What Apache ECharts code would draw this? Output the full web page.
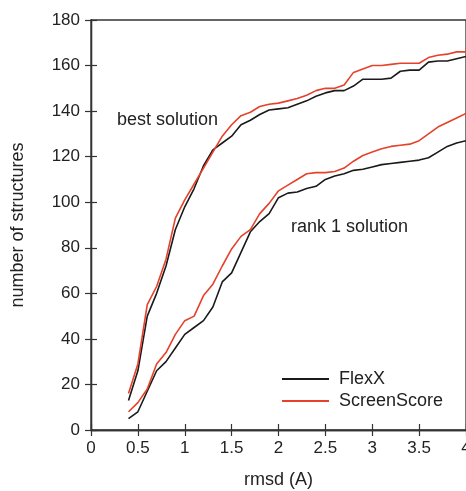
<!DOCTYPE html>
<html>
<head>
<meta charset="utf-8">
<script src="https://cdn.jsdelivr.net/npm/echarts@6/dist/echarts.min.js"></script>
<style>html,body{margin:0;padding:0;background:#fff}#c{width:466px;height:491px}</style>
</head>
<body>
<div id="c"></div>
<script>
const rmsd = [0.4,0.5,0.6,0.7,0.8,0.9,1.0,1.1,1.2,1.3,1.4,1.5,1.6,1.7,1.8,1.9,2.0,2.1,2.2,2.3,2.4,2.5,2.6,2.7,2.8,2.9,3.0,3.1,3.2,3.3,3.4,3.5,3.6,3.7,3.8,3.9,4.0];
const bestFlexX = [13,26,50,60,72,88,98,106,116,123,126,129,134,136,138.5,140.5,141,141.5,143,144.5,146.5,148,149,149,151,154,154,154,154.5,157.5,158,158,161.5,162,162,163,164];
const bestScreenScore = [16,29,55,63,75,93,101,108,115,122,129,134,138,139.5,142,143,143.5,144.5,145.5,147,149,150,150,151.5,157,158.5,160,160,160.5,161,161,161,163.5,164.5,165,166,166];
const rankFlexX = [5,8,17,26,30,36,42,45,48,54,65,69,78,87,91.5,95,102,104,104.5,106,107,110,111.5,112.5,114,114.5,115.5,116.5,117,117.5,118,118.5,119.5,122,124.5,126,127];
const rankScreenScore = [8,12,18,29,34,42,48,50,59,64,72,79.5,85,88,95,99.5,105,107.5,110,112.5,113,113,113.5,115,118,120.5,122,123.5,124.5,125,125.5,127,130,133,135,137,139];
const xTicks = ['0','0.5','1','1.5','2','2.5','3','3.5','4'];
const seriesNames = ['FlexX','ScreenScore'];
const annotations = ['best solution','rank 1 solution'];

const BLACK = '#1a1a1a', RED = '#e5412b', AX = '#333';
const font = 'Liberation Sans, Arial, Helvetica, sans-serif';
const pair = ys => rmsd.map((x,i)=>[x,ys[i]]);
const mk = (name, ys, color) => ({
  type:'line', name, data: pair(ys), symbol:'none', showSymbol:false,
  lineStyle:{color, width:1.6}, itemStyle:{color}, animation:false, z: color===RED?3:2
});
const axLine = {show:true, lineStyle:{color:AX, width:1.3}};
const tick = {show:true, inside:true, length:6, lineStyle:{color:AX, width:1.2}};
const chart = echarts.init(document.getElementById('c'), null, {renderer:'canvas'});
chart.setOption({
  backgroundColor:'#fff',
  animation:false,
  grid:{left:91, right:0, top:20, bottom:61, outerBoundsMode:'none',
        show:true, borderColor:AX, borderWidth:1.3, backgroundColor:'transparent'},
  legend:{
    data: seriesNames, orient:'vertical', left:277, top:365,
    icon:'rect', itemWidth:47, itemHeight:2, itemGap:4,
    textStyle:{fontFamily:font, fontSize:18, color:'#222', padding:[0,0,0,5]},
    selectedMode:false
  },
  xAxis:[{
    type:'value', min:0, max:4, interval:0.5,
    axisLine:axLine, axisTick:tick,
    splitLine:{show:false},
    axisLabel:{margin:10, fontFamily:font, fontSize:17, color:'#222',
      formatter:(v)=>xTicks[Math.round(v/0.5)] ?? ''},
    name:'rmsd (A)', nameLocation:'middle', nameGap:41,
    nameTextStyle:{fontFamily:font, fontSize:18, color:'#222'}
  },{
    type:'value', min:0, max:4, interval:0.5, position:'top',
    axisLine:axLine, axisTick:tick,
    axisLabel:{show:false}, splitLine:{show:false}
  }],
  yAxis:[{
    type:'value', min:0, max:180, interval:20,
    axisLine:axLine, axisTick:tick,
    splitLine:{show:false},
    axisLabel:{margin:11, fontFamily:font, fontSize:17, color:'#222'},
    name:'number of structures', nameLocation:'middle', nameGap:64,
    nameTextStyle:{fontFamily:font, fontSize:18, color:'#222'}
  },{
    type:'value', min:0, max:180, interval:20, position:'right',
    axisLine:axLine, axisTick:tick,
    axisLabel:{show:false}, splitLine:{show:false}
  }],
  graphic:[
    {type:'text', left:117, top:111, style:{text:annotations[0], font:'18px '+font, fill:'#222'}},
    {type:'text', left:291, top:218, style:{text:annotations[1], font:'18px '+font, fill:'#222'}}
  ],
  series:[
    mk(seriesNames[0], bestFlexX, BLACK),
    mk(seriesNames[1], bestScreenScore, RED),
    mk(seriesNames[0], rankFlexX, BLACK),
    mk(seriesNames[1], rankScreenScore, RED)
  ]
});
</script>
</body>
</html>
